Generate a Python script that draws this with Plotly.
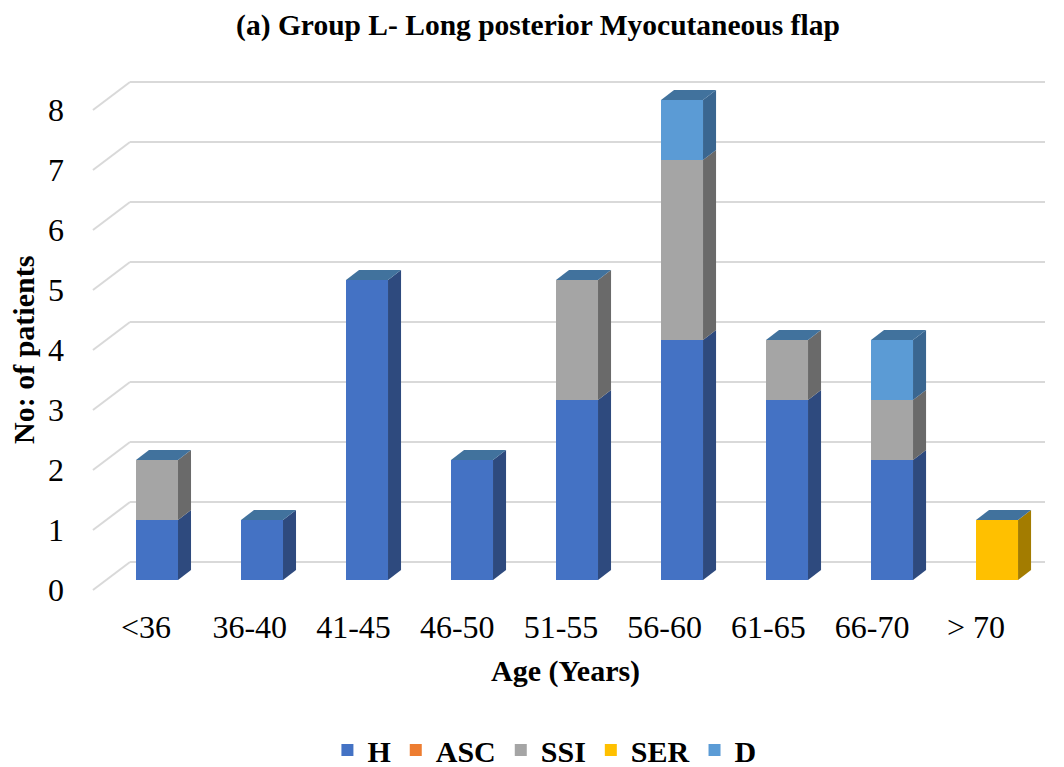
import plotly.graph_objects as go

categories = ["<36", "36-40", "41-45", "46-50", "51-55", "56-60", "61-65", "66-70", "> 70"]
H   = [1, 1, 5, 2, 3, 4, 3, 2, 0]
ASC = [0, 0, 0, 0, 0, 0, 0, 0, 0]
SSI = [1, 0, 0, 0, 2, 3, 1, 1, 0]
SER = [0, 0, 0, 0, 0, 0, 0, 0, 1]
D   = [0, 0, 0, 0, 0, 1, 0, 1, 0]
y_ticks = [0, 1, 2, 3, 4, 5, 6, 7, 8]

series = [
    ("H", H, "#4472C4", "#2E4A7E"),
    ("ASC", ASC, "#ED7D31", "#9E5220"),
    ("SSI", SSI, "#A5A5A5", "#6A6A6A"),
    ("SER", SER, "#FFC000", "#A37C00"),
    ("D", D, "#5B9BD5", "#3A6690"),
]
TOP_COLOR = "#41729D"

FONT = "Liberation Serif"
BW = 0.4          # bar width (category units)
DX, DY = 0.124, 0.167   # bar depth offset
GX0, GY0 = -0.61, -0.167  # floor front offset
GX1, GY1 = -0.257, 0.3    # back wall offset
GX2 = 8.457
# perspective of category labels on the front floor edge
LBL_SCALE, LBL_SHIFT = 0.988, -0.105

x = list(range(len(categories)))
fig = go.Figure()

# front faces (bars)
for name, vals, col, side in series:
    fig.add_trace(go.Bar(
        x=x, y=vals, name="<b>%s</b>" % name, width=BW,
        marker=dict(color=col, line=dict(width=0)),
        showlegend=True,
    ))

# side faces and top faces
totals = [0] * len(categories)
for name, vals, col, side in series:
    for i, v in enumerate(vals):
        if v <= 0:
            continue
        y0 = totals[i]
        y1 = y0 + v
        xr = x[i] + BW / 2
        fig.add_trace(go.Scatter(
            x=[xr, xr + DX, xr + DX, xr, xr],
            y=[y0, y0 + DY, y1 + DY, y1, y0],
            fill="toself", fillcolor=side, mode="lines",
            line=dict(width=0, color=side), showlegend=False, hoverinfo="skip",
        ))
        totals[i] = y1

for i, t in enumerate(totals):
    if t <= 0:
        continue
    xl = x[i] - BW / 2
    xr = x[i] + BW / 2
    fig.add_trace(go.Scatter(
        x=[xl, xr, xr + DX, xl + DX, xl],
        y=[t, t, t + DY, t + DY, t],
        fill="toself", fillcolor=TOP_COLOR, mode="lines",
        line=dict(width=0, color=TOP_COLOR), showlegend=False, hoverinfo="skip",
    ))

# 3D gridlines
shapes = []
for v in y_ticks:
    shapes.append(dict(type="line", xref="x", yref="y", layer="below",
                       x0=GX0, y0=v + GY0, x1=GX1, y1=v + GY1,
                       line=dict(color="#D9D9D9", width=2)))
    shapes.append(dict(type="line", xref="x", yref="y", layer="below",
                       x0=GX1, y0=v + GY1, x1=GX2, y1=v + GY1,
                       line=dict(color="#D9D9D9", width=2)))

annotations = [
    dict(text="<b>Age (Years)</b>", xref="paper", yref="paper", x=0.5, y=-0.132,
         xanchor="center", yanchor="middle", showarrow=False,
         font=dict(family=FONT, size=30, color="black")),
    dict(text="<b>No: of patients</b>", xref="paper", yref="paper", x=-0.052, y=0.463,
         xanchor="center", yanchor="middle", showarrow=False, textangle=-90,
         font=dict(family=FONT, size=30, color="black")),
]

fig.update_layout(
    width=1064, height=767,
    margin=dict(l=75, r=9, t=60, b=167, autoexpand=False),
    paper_bgcolor="white", plot_bgcolor="white",
    barmode="stack",
    shapes=shapes,
    annotations=annotations,
    title=dict(text="<b>(a) Group L- Long posterior Myocutaneous flap</b>",
               x=0.5056, xanchor="center", y=0.968, yanchor="middle",
               font=dict(family=FONT, size=29.5, color="black")),
    font=dict(family=FONT, size=30, color="black"),
    xaxis=dict(range=[-0.781, 8.552],
               tickvals=[i * LBL_SCALE + LBL_SHIFT for i in x], ticktext=categories,
               showgrid=False, zeroline=False, showline=False, ticks="",
               automargin=False, ticklabelstandoff=5,
               tickfont=dict(family=FONT, size=32, color="black")),
    yaxis=dict(range=[-0.333, 8.667],
               tickvals=[v + GY0 for v in y_ticks], ticktext=[str(v) for v in y_ticks],
               showgrid=False, zeroline=False, showline=False, ticks="",
               automargin=False, ticklabelstandoff=10,
               tickfont=dict(family=FONT, size=32, color="black")),
    legend=dict(orientation="h", x=0.479, xanchor="center", y=-0.278, yanchor="middle",
                font=dict(family=FONT, size=30, color="black"),
                itemsizing="constant", traceorder="normal", itemwidth=30),
)

fig.write_html("out.html")
